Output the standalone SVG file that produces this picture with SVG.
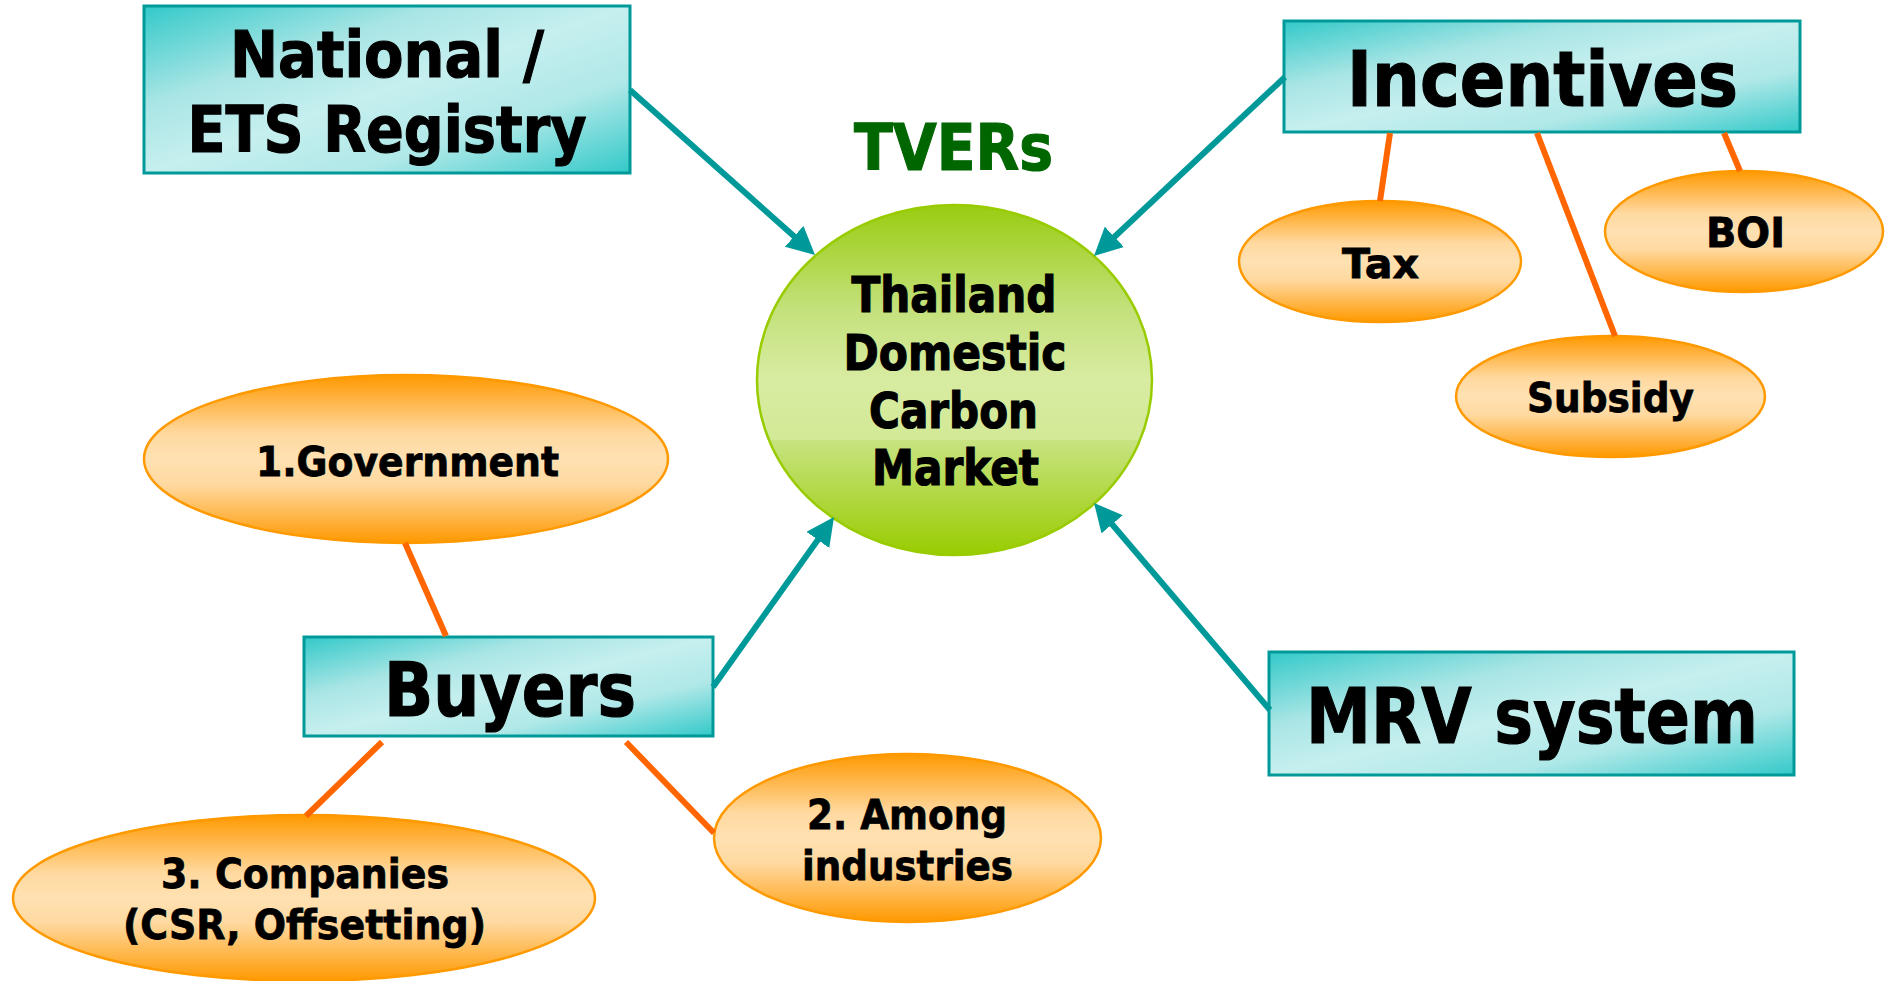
<svg xmlns="http://www.w3.org/2000/svg" width="1885" height="981" viewBox="0 0 1885 981">
<defs>
<linearGradient id="gBox" x1="0" y1="0" x2="1" y2="1">
<stop offset="0" stop-color="#33c9c9"/>
<stop offset="0.3" stop-color="#a9e5e5"/>
<stop offset="0.5" stop-color="#c6efef"/>
<stop offset="0.72" stop-color="#b0e8e8"/>
<stop offset="1" stop-color="#33c9c9"/>
</linearGradient>
<linearGradient id="gGreen" x1="0" y1="0" x2="0" y2="1">
<stop offset="0" stop-color="#99cc11"/>
<stop offset="0.3" stop-color="#c4e17c"/>
<stop offset="0.5" stop-color="#d8eca2"/>
<stop offset="0.67" stop-color="#d2e996"/>
<stop offset="0.671" stop-color="#c8e382"/>
<stop offset="1" stop-color="#99cc00"/>
</linearGradient>
<linearGradient id="gOrange" x1="0" y1="0" x2="0" y2="1">
<stop offset="0" stop-color="#ff9900"/>
<stop offset="0.35" stop-color="#ffd9a0"/>
<stop offset="0.5" stop-color="#ffe1b2"/>
<stop offset="0.65" stop-color="#ffd9a0"/>
<stop offset="1" stop-color="#ff9900"/>
</linearGradient>
<marker id="arrow" markerUnits="userSpaceOnUse" markerWidth="28" markerHeight="28" viewBox="0 0 28 28" refX="10" refY="14" orient="auto">
<path d="M0,0 L28,14 L0,28 z" fill="#009999"/>
</marker>
<style>
.box{fill:url(#gBox);stroke:#009999;stroke-width:3}
.ell{fill:url(#gOrange);stroke:#ff9900;stroke-width:2.5}
.t{font-family:"DejaVu Sans","Liberation Sans",sans-serif;font-weight:bold;fill:#000;stroke:#000;stroke-width:1.2;text-anchor:middle}
.s{stroke-width:0.8}
.arr{stroke:#009999;stroke-width:6;fill:none;marker-end:url(#arrow)}
.ol{stroke:#ff6600;stroke-width:6;fill:none}
</style>
</defs>

<g id="node-national">
<rect class="box" x="144" y="6" width="486" height="167"/>
<text class="t" x="387" y="77" font-size="64" textLength="314" lengthAdjust="spacingAndGlyphs">National /</text>
<text class="t" x="387" y="152" font-size="64" textLength="399" lengthAdjust="spacingAndGlyphs">ETS Registry</text>
</g>

<g id="node-tvers">
<text class="t" x="953.5" y="170" font-size="64" style="fill:#006600;stroke:#006600" textLength="199" lengthAdjust="spacingAndGlyphs">TVERs</text>
</g>

<g id="node-market">
<ellipse cx="954.5" cy="380" rx="197.5" ry="175" fill="url(#gGreen)" stroke="#99cc00" stroke-width="2.5"/>
<text class="t" x="954" y="312" font-size="49" textLength="205" lengthAdjust="spacingAndGlyphs">Thailand</text>
<text class="t" x="955" y="370" font-size="49" textLength="223" lengthAdjust="spacingAndGlyphs">Domestic</text>
<text class="t" x="953.5" y="428" font-size="49" textLength="169" lengthAdjust="spacingAndGlyphs">Carbon</text>
<text class="t" x="955.5" y="485" font-size="49" textLength="167" lengthAdjust="spacingAndGlyphs">Market</text>
</g>

<g id="node-incentives">
<rect class="box" x="1284" y="21" width="516" height="111"/>
<text class="t" x="1542.5" y="106" font-size="77" textLength="391" lengthAdjust="spacingAndGlyphs">Incentives</text>
</g>

<g id="node-tax">
<ellipse class="ell" cx="1380" cy="261.5" rx="141" ry="60.5"/>
<text class="t s" x="1380.5" y="278" font-size="41" textLength="77" lengthAdjust="spacingAndGlyphs">Tax</text>
</g>

<g id="node-boi">
<ellipse class="ell" cx="1744" cy="231.5" rx="139" ry="60.5"/>
<text class="t s" x="1745.5" y="247" font-size="41" textLength="79" lengthAdjust="spacingAndGlyphs">BOI</text>
</g>

<g id="node-subsidy">
<ellipse class="ell" cx="1610.5" cy="396.5" rx="154.5" ry="60.5"/>
<text class="t s" x="1610.5" y="412" font-size="41" textLength="167" lengthAdjust="spacingAndGlyphs">Subsidy</text>
</g>

<g id="node-government">
<ellipse class="ell" cx="406" cy="459" rx="262" ry="84"/>
<text class="t s" x="407.5" y="476" font-size="41" textLength="303" lengthAdjust="spacingAndGlyphs">1.Government</text>
</g>

<g id="node-buyers">
<rect class="box" x="304" y="637" width="409" height="99"/>
<text class="t" x="510" y="716" font-size="74" textLength="252" lengthAdjust="spacingAndGlyphs">Buyers</text>
</g>

<g id="node-companies">
<ellipse class="ell" cx="304" cy="898" rx="291" ry="83"/>
<text class="t s" x="305" y="888" font-size="41" textLength="288" lengthAdjust="spacingAndGlyphs">3. Companies</text>
<text class="t s" x="304.5" y="939" font-size="41" textLength="363" lengthAdjust="spacingAndGlyphs">(CSR, Offsetting)</text>
</g>

<g id="node-among">
<ellipse class="ell" cx="907.5" cy="838" rx="193.5" ry="84"/>
<text class="t s" x="907" y="829" font-size="41" textLength="200" lengthAdjust="spacingAndGlyphs">2. Among</text>
<text class="t s" x="907.5" y="880" font-size="41" textLength="211" lengthAdjust="spacingAndGlyphs">industries</text>
</g>

<g id="node-mrv">
<rect class="box" x="1269" y="652" width="525" height="123"/>
<text class="t" x="1532" y="743" font-size="76" textLength="452" lengthAdjust="spacingAndGlyphs">MRV system</text>
</g>

<g id="connectors">
<line class="arr" x1="630" y1="90" x2="801.6" y2="243"/>
<line class="arr" x1="1285" y1="77" x2="1107.1" y2="243.7"/>
<line class="arr" x1="713" y1="687" x2="823.6" y2="531.7"/>
<line class="arr" x1="1270" y1="710" x2="1105.7" y2="516.7"/>
<line class="ol" x1="1390" y1="133" x2="1380" y2="201"/>
<line class="ol" x1="1537" y1="133" x2="1615" y2="336"/>
<line class="ol" x1="1724" y1="133" x2="1740" y2="171"/>
<line class="ol" x1="405" y1="543" x2="446" y2="636"/>
<line class="ol" x1="382" y1="742" x2="306" y2="816"/>
<line class="ol" x1="626" y1="742" x2="714" y2="833"/>
</g>
</svg>
